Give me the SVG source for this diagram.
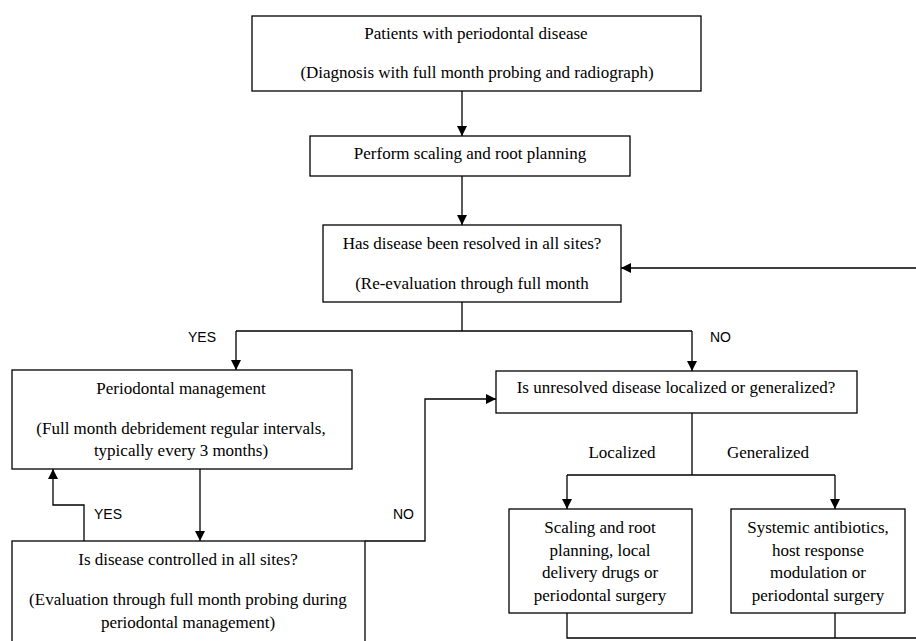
<svg xmlns="http://www.w3.org/2000/svg" width="916" height="641" viewBox="0 0 916 641">
<defs>
<marker id="ah" viewBox="0 0 10 10" refX="10" refY="5" markerWidth="10" markerHeight="10" markerUnits="userSpaceOnUse" orient="auto">
<path d="M0,0 L10,5 L0,10 Z" fill="#000"/>
</marker>
<style>
.box{fill:#fff;stroke:#000;stroke-width:1.3}
.t{font-family:"Liberation Serif","Times New Roman",serif;font-size:17px;fill:#000;text-anchor:middle}
.lbl{font-family:"Liberation Sans",Arial,sans-serif;font-size:14px;fill:#000}
.c{fill:none;stroke:#000;stroke-width:1.3}
</style>
</defs>
<rect width="916" height="641" fill="#fff"/>
<g id="connectors">
<path class="c" d="M462,91 V136" marker-end="url(#ah)"/>
<path class="c" d="M462,176 V225" marker-end="url(#ah)"/>
<path class="c" d="M916,268 H621" marker-end="url(#ah)"/>
<path class="c" d="M462,302 V331 M236,331 H692"/>
<path class="c" d="M236,331 V370" marker-end="url(#ah)"/>
<path class="c" d="M692,331 V371" marker-end="url(#ah)"/>
<path class="c" d="M200,469 V541" marker-end="url(#ah)"/>
<path class="c" d="M84,541 V505 H53 V469" marker-end="url(#ah)"/>
<path class="c" d="M365,541 H425 V399 H496" marker-end="url(#ah)"/>
<path class="c" d="M692,413 V475 M567,475 H835"/>
<path class="c" d="M567,475 V509" marker-end="url(#ah)"/>
<path class="c" d="M835,475 V509" marker-end="url(#ah)"/>
<path class="c" d="M567,613 V638 H916 M835,613 V638"/>
<text class="lbl" x="188" y="342">YES</text>
<text class="lbl" x="710" y="342">NO</text>
<text class="lbl" x="94" y="519">YES</text>
<text class="lbl" x="393" y="519">NO</text>
<text class="t" x="622" y="458">Localized</text>
<text class="t" x="768" y="458">Generalized</text>
</g>
<g id="n1">
<rect class="box" x="252" y="16" width="449" height="75"/>
<text class="t" x="476" y="39">Patients with periodontal disease</text>
<text class="t" x="477" y="78">(Diagnosis with  full month probing and radiograph)</text>
</g>
<g id="n2">
<rect class="box" x="310" y="136" width="320" height="40"/>
<text class="t" x="470" y="159">Perform scaling and root planning</text>
</g>
<g id="n3">
<rect class="box" x="323" y="225" width="298" height="77"/>
<text class="t" x="472" y="249">Has disease been resolved in all sites?</text>
<text class="t" x="472" y="289">(Re-evaluation through full month</text>
</g>
<g id="n4">
<rect class="box" x="12" y="370" width="340" height="99"/>
<text class="t" x="181" y="394">Periodontal management</text>
<text class="t" x="181" y="434">(Full month debridement regular intervals,</text>
<text class="t" x="181" y="456">typically every 3 months)</text>
</g>
<g id="n5">
<rect class="box" x="12" y="541" width="353" height="110"/>
<text class="t" x="188" y="565">Is disease controlled in all sites?</text>
<text class="t" x="188" y="605">(Evaluation through full month probing during</text>
<text class="t" x="188" y="628">periodontal management)</text>
</g>
<g id="n6">
<rect class="box" x="496" y="371" width="361" height="42"/>
<text class="t" x="676" y="393">Is unresolved disease localized or generalized?</text>
</g>
<g id="n7">
<rect class="box" x="509" y="509" width="183" height="104"/>
<text class="t" x="600" y="533">Scaling and root</text>
<text class="t" x="600" y="556">planning, local</text>
<text class="t" x="600" y="578">delivery drugs or</text>
<text class="t" x="600" y="601">periodontal surgery</text>
</g>
<g id="n8">
<rect class="box" x="731" y="509" width="174" height="104"/>
<text class="t" x="818" y="533">Systemic antibiotics,</text>
<text class="t" x="818" y="556">host response</text>
<text class="t" x="818" y="578">modulation or</text>
<text class="t" x="818" y="601">periodontal surgery</text>
</g>
</svg>
